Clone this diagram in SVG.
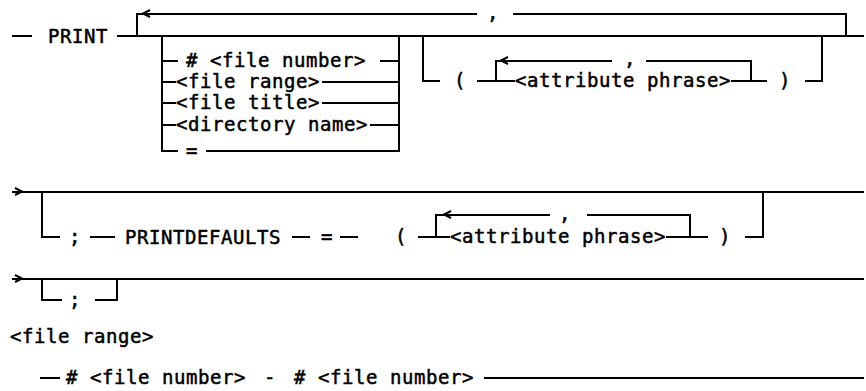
<svg xmlns="http://www.w3.org/2000/svg" width="866" height="391" viewBox="0 0 866 391">
<style>
  .t { font-family: "DejaVu Sans Mono", "Liberation Mono", monospace; font-size: 19px; letter-spacing: 0.56px; font-weight: normal; fill: #000; stroke: #000; stroke-width: 0.5px; }
  .c path { fill: none; stroke: #000; stroke-width: 2; }
</style>
<rect width="866" height="391" fill="#fff"/>
<g class="c" id="connectors">
  <path d="M12,36 H32 M117,36 H864"/>
  <path d="M137,36 V14 H477 M513,14 H846 V36"/>
  <path d="M150,10 L143,13.5 L150,17"/>
  <path d="M162,36 V151 H178 M206,151 H399 V36"/>
  <path d="M162,61 H178 M380,61 H399"/>
  <path d="M162,82 H176 M322,82 H399"/>
  <path d="M162,103 H176 M322,103 H399"/>
  <path d="M162,125 H176 M370,125 H399"/>
  <path d="M423,36 V81 H440 M477,81 H515 M496,81 V61 H612 M646,61 H751 V81 M731,81 H767 M805,81 H822 V36"/>
  <path d="M508,57 L501,60.5 L508,64"/>
  <path d="M12,192 H864 M15,188 L22,191.5 L15,195"/>
  <path d="M42,192 V237 H60 M90,237 H115 M292,237 H310 M340,237 H358 M418,237 H450 M436,237 V215 H550 M587,215 H690 V237 M666,237 H708 M745,237 H763 V192"/>
  <path d="M451,211 L444,214.5 L451,218"/>
  <path d="M12,279 H864 M15,275 L22,278.5 L15,282"/>
  <path d="M42,279 V300 H62 M95,300 H117 V279"/>
  <path d="M40,378 H60 M484,378 H864"/>
</g>
<g id="print"><text class="t" x="48" y="43">PRINT</text></g>
<g id="comma-top"><text class="t" x="487" y="19">,</text></g>
<g id="opt-file-number"><text class="t" x="186" y="67"># &lt;file number&gt;</text></g>
<g id="opt-file-range"><text class="t" x="176" y="88">&lt;file range&gt;</text></g>
<g id="opt-file-title"><text class="t" x="176" y="109">&lt;file title&gt;</text></g>
<g id="opt-directory-name"><text class="t" x="176" y="131">&lt;directory name&gt;</text></g>
<g id="opt-equals"><text class="t" x="186" y="157">=</text></g>
<g id="attr1-open"><text class="t" x="454" y="87">(</text></g>
<g id="attr1-comma"><text class="t" x="624" y="65">,</text></g>
<g id="attr1-phrase"><text class="t" x="515" y="87">&lt;attribute phrase&gt;</text></g>
<g id="attr1-close"><text class="t" x="779" y="87">)</text></g>
<g id="semi1"><text class="t" x="69" y="243">;</text></g>
<g id="printdefaults"><text class="t" x="125" y="244">PRINTDEFAULTS</text></g>
<g id="pd-equals"><text class="t" x="321" y="243">=</text></g>
<g id="attr2-open"><text class="t" x="395" y="243">(</text></g>
<g id="attr2-comma"><text class="t" x="559" y="220">,</text></g>
<g id="attr2-phrase"><text class="t" x="450" y="243">&lt;attribute phrase&gt;</text></g>
<g id="attr2-close"><text class="t" x="719" y="243">)</text></g>
<g id="semi2"><text class="t" x="69" y="306">;</text></g>
<g id="label-file-range"><text class="t" x="10" y="343">&lt;file range&gt;</text></g>
<g id="range-from"><text class="t" x="66" y="384"># &lt;file number&gt;</text></g>
<g id="range-dash"><text class="t" x="264" y="384">-</text></g>
<g id="range-to"><text class="t" x="294" y="384"># &lt;file number&gt;</text></g>
</svg>
